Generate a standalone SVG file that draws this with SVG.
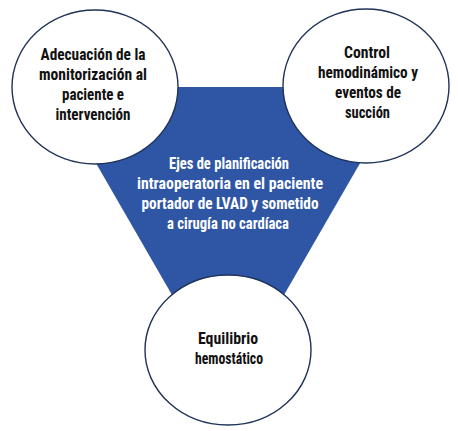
<svg xmlns="http://www.w3.org/2000/svg" width="458" height="431" viewBox="0 0 458 431">
<style>
.c{fill:#fff;stroke:#1f3358;stroke-width:1.4}
.t{font-family:"Liberation Sans Narrow","Roboto Condensed","DejaVu Sans Condensed","Roboto",sans-serif;font-weight:bold;font-size:16px;text-anchor:middle}
.k{fill:#111}
.w{fill:#fff}
</style>
<rect width="458" height="431" fill="#fff"/>
<g id="center">
<polygon points="52,87 404,87 228,392" fill="#2f56a5"/>
<text class="t w" x="229" y="169" textLength="120" lengthAdjust="spacingAndGlyphs">Ejes de planificación</text>
<text class="t w" x="230" y="189" textLength="186" lengthAdjust="spacingAndGlyphs">intraoperatoria en el paciente</text>
<text class="t w" x="230" y="209" textLength="177" lengthAdjust="spacingAndGlyphs">portador de LVAD y sometido</text>
<text class="t w" x="228" y="229" textLength="122" lengthAdjust="spacingAndGlyphs">a cirugía no cardíaca</text>
</g>
<g id="left">
<ellipse class="c" cx="95" cy="87" rx="83" ry="77"/>
<text class="t k" x="93" y="60" textLength="105" lengthAdjust="spacingAndGlyphs">Adecuación de la</text>
<text class="t k" x="93" y="80" textLength="108" lengthAdjust="spacingAndGlyphs">monitorización al</text>
<text class="t k" x="93" y="100" textLength="62" lengthAdjust="spacingAndGlyphs">paciente e</text>
<text class="t k" x="93" y="120" textLength="75" lengthAdjust="spacingAndGlyphs">intervención</text>
</g>
<g id="right">
<ellipse class="c" cx="366" cy="86" rx="83" ry="77"/>
<text class="t k" x="367" y="58" textLength="46" lengthAdjust="spacingAndGlyphs">Control</text>
<text class="t k" x="368" y="78" textLength="100" lengthAdjust="spacingAndGlyphs">hemodinámico y</text>
<text class="t k" x="368" y="98" textLength="66" lengthAdjust="spacingAndGlyphs">eventos de</text>
<text class="t k" x="367.5" y="118" textLength="45" lengthAdjust="spacingAndGlyphs">succión</text>
</g>
<g id="bottom">
<ellipse class="c" cx="228" cy="350" rx="83" ry="75"/>
<text class="t k" x="228" y="344" textLength="60" lengthAdjust="spacingAndGlyphs">Equilibrio</text>
<text class="t k" x="229" y="364" textLength="68" lengthAdjust="spacingAndGlyphs">hemostático</text>
</g>
<g id="connectors"/>
</svg>
